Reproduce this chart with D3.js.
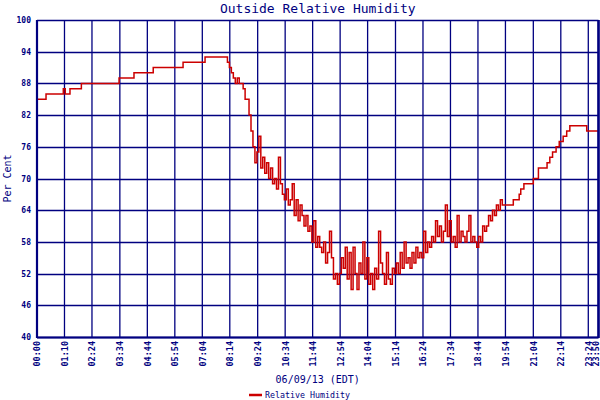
<!DOCTYPE html>
<html>
<head>
<meta charset="utf-8">
<script src="https://cdn.jsdelivr.net/npm/d3@7"></script>
<style>
  html, body { margin: 0; padding: 0; background: #fff; }
  svg { display: block; }
</style>
</head>
<body>
<svg id="chart" width="600" height="400"></svg>
<script>
// ---- data ----
const titleText = "Outside Relative Humidity";
const xTitle = "06/09/13 (EDT)";
const yTitle = "Per Cent";
const seriesName = "Relative Humidity";

// y ticks
const yTicks = [40, 46, 52, 58, 64, 70, 76, 82, 88, 94, 100];

// x tick labels and their positions (minutes after midnight)
const xTickLabels = ["00:00","01:10","02:24","03:34","04:44","05:54","07:04","08:14","09:24","10:34","11:44",
                     "12:54","14:04","15:14","16:24","17:34","18:44","19:54","21:04","22:14","23:24","23:50"];
const xTickMinutes = [0, 70, 140, 211, 281, 351, 421, 491, 562, 632, 702,
                      772, 842, 913, 983, 1053, 1123, 1193, 1264, 1334, 1404, 1430];

// steady morning segment: [minute, value]
const morningSteps = [[0,85],[23,86],[67,87],[72,86],[84,87],[113,88],[209,89],[247,90],[296,91],[372,92],[428,93]];

// noisy daytime segment: readings every 5 minutes starting at minute 485
const noisyStart = 485;
const noisyStep = 5;
const noisyValues = [
  92,91,90,89,88,89,88,88,87,85,
  85,82,79,76,73,75,78,72,74,71,
  73,70,72,69,70,68,74,69,67,66,
  68,65,66,69,63,66,62,65,63,61,
  63,60,61,58,62,57,59,57,56,58,
  54,56,60,55,51,52,50,52,55,53,
  57,51,56,49,57,52,49,54,52,58,
  51,55,50,52,49,53,51,60,54,52,
  50,56,51,50,53,52,54,52,56,53,
  58,54,55,53,56,54,57,55,56,55,
  60,56,58,57,59,58,62,59,61,58,
  60,65,59,62,58,59,57,63,58,60,
  59,58,60,63,58,59,58,57,59,58,
  61,60,61,63,62,64,63,65,64,66,
  65
];

// steady evening segment: [minute, value]
const eveningSteps = [[1213,66],[1228,67],[1232,68],[1240,69],[1264,70],[1277,72],[1299,73],[1306,74],
                      [1313,75],[1322,76],[1330,77],[1340,78],[1349,79],[1357,80],[1400,79],[1430,79]];

// ---- build series ----
const series = [];
morningSteps.forEach(d => series.push({m: d[0], v: d[1]}));
noisyValues.forEach((v, i) => series.push({m: noisyStart + i * noisyStep, v: v}));
eveningSteps.forEach(d => series.push({m: d[0], v: d[1]}));

// ---- layout ----
const navy = "#000080";
const red = "#cc0000";
const pLeft = 37, pRight = 598.5, pTop = 20, pBottom = 337;

const svg = d3.select("#chart");
svg.append("rect").attr("width", 600).attr("height", 400).attr("fill", "#fff");

const x = d3.scaleLinear().domain([0, 1430]).range([pLeft, pRight]);
const y = d3.scaleLinear().domain([40, 100]).range([pBottom, pTop]);

const mono = "'DejaVu Sans Mono', 'Liberation Mono', monospace";

// grid
const g = svg.append("g");
g.selectAll("line.h").data(yTicks).enter().append("line")
  .attr("x1", pLeft).attr("x2", pRight)
  .attr("y1", d => Math.round(y(d)) + 0.5).attr("y2", d => Math.round(y(d)) + 0.5)
  .attr("stroke", navy).attr("stroke-width", 1.3);
g.selectAll("line.v").data(xTickMinutes).enter().append("line")
  .attr("x1", d => x(d)).attr("x2", d => x(d))
  .attr("y1", pTop).attr("y2", pBottom)
  .attr("stroke", navy).attr("stroke-width", 1.3);

// series line
const line = d3.line().x(d => x(d.m)).y(d => y(d.v)).curve(d3.curveStepAfter);
svg.append("path").datum(series)
  .attr("d", line)
  .attr("fill", "none")
  .attr("stroke", red)
  .attr("stroke-width", 1.5);

// axes frame
svg.append("line").attr("x1", pLeft).attr("x2", pLeft).attr("y1", pTop).attr("y2", pBottom + 1)
  .attr("stroke", navy).attr("stroke-width", 2.2);
svg.append("line").attr("x1", pRight).attr("x2", pRight).attr("y1", pTop).attr("y2", pBottom + 1)
  .attr("stroke", navy).attr("stroke-width", 2.6);
svg.append("line").attr("x1", pLeft).attr("x2", pRight).attr("y1", pBottom + 0.5).attr("y2", pBottom + 0.5)
  .attr("stroke", navy).attr("stroke-width", 1.8);

// y axis labels
const yAxis = d3.axisLeft(y).tickValues(yTicks).tickSize(0).tickPadding(6).tickFormat(d3.format("d"));
const ya = svg.append("g").attr("transform", `translate(${pLeft},0)`).call(yAxis);
ya.select(".domain").remove();
ya.selectAll("text")
  .attr("font-family", mono).attr("font-size", 8).attr("font-weight", "bold")
  .attr("fill", navy);

// x axis labels (vertical)
const xAxis = d3.axisBottom(x).tickValues(xTickMinutes).tickSize(0)
  .tickFormat((d, i) => xTickLabels[i]);
const xa = svg.append("g").attr("transform", `translate(0,${pBottom})`).call(xAxis);
xa.select(".domain").remove();
const lastIdx = xTickLabels.length - 1;
xa.selectAll("text")
  .attr("font-family", mono).attr("font-size", 8.5).attr("font-weight", "bold")
  .attr("fill", navy)
  .attr("text-anchor", "end")
  .attr("dy", "0.35em")
  .attr("transform", (d, i) => i === lastIdx ? "translate(-3,4) rotate(-90)" : "translate(0,4) rotate(-90)")
  .attr("x", 0).attr("y", 0);

// titles
svg.append("text").attr("x", (pLeft + pRight) / 2).attr("y", 13)
  .attr("text-anchor", "middle").attr("font-family", mono).attr("font-size", 13)
  .attr("fill", navy).text(titleText);

svg.append("text").attr("x", (pLeft + pRight) / 2).attr("y", 383)
  .attr("text-anchor", "middle").attr("font-family", mono).attr("font-size", 10)
  .attr("fill", navy).text(xTitle);

svg.append("text")
  .attr("transform", `translate(11,${(pTop + pBottom) / 2}) rotate(-90)`)
  .attr("text-anchor", "middle").attr("font-family", mono).attr("font-size", 10)
  .attr("fill", navy).text(yTitle);

// legend
svg.append("line").attr("x1", 249).attr("x2", 262).attr("y1", 395).attr("y2", 395)
  .attr("stroke", red).attr("stroke-width", 2.5);
svg.append("text").attr("x", 265).attr("y", 398)
  .attr("font-family", mono).attr("font-size", 8.3).attr("fill", navy)
  .text(seriesName);
</script>
</body>
</html>
